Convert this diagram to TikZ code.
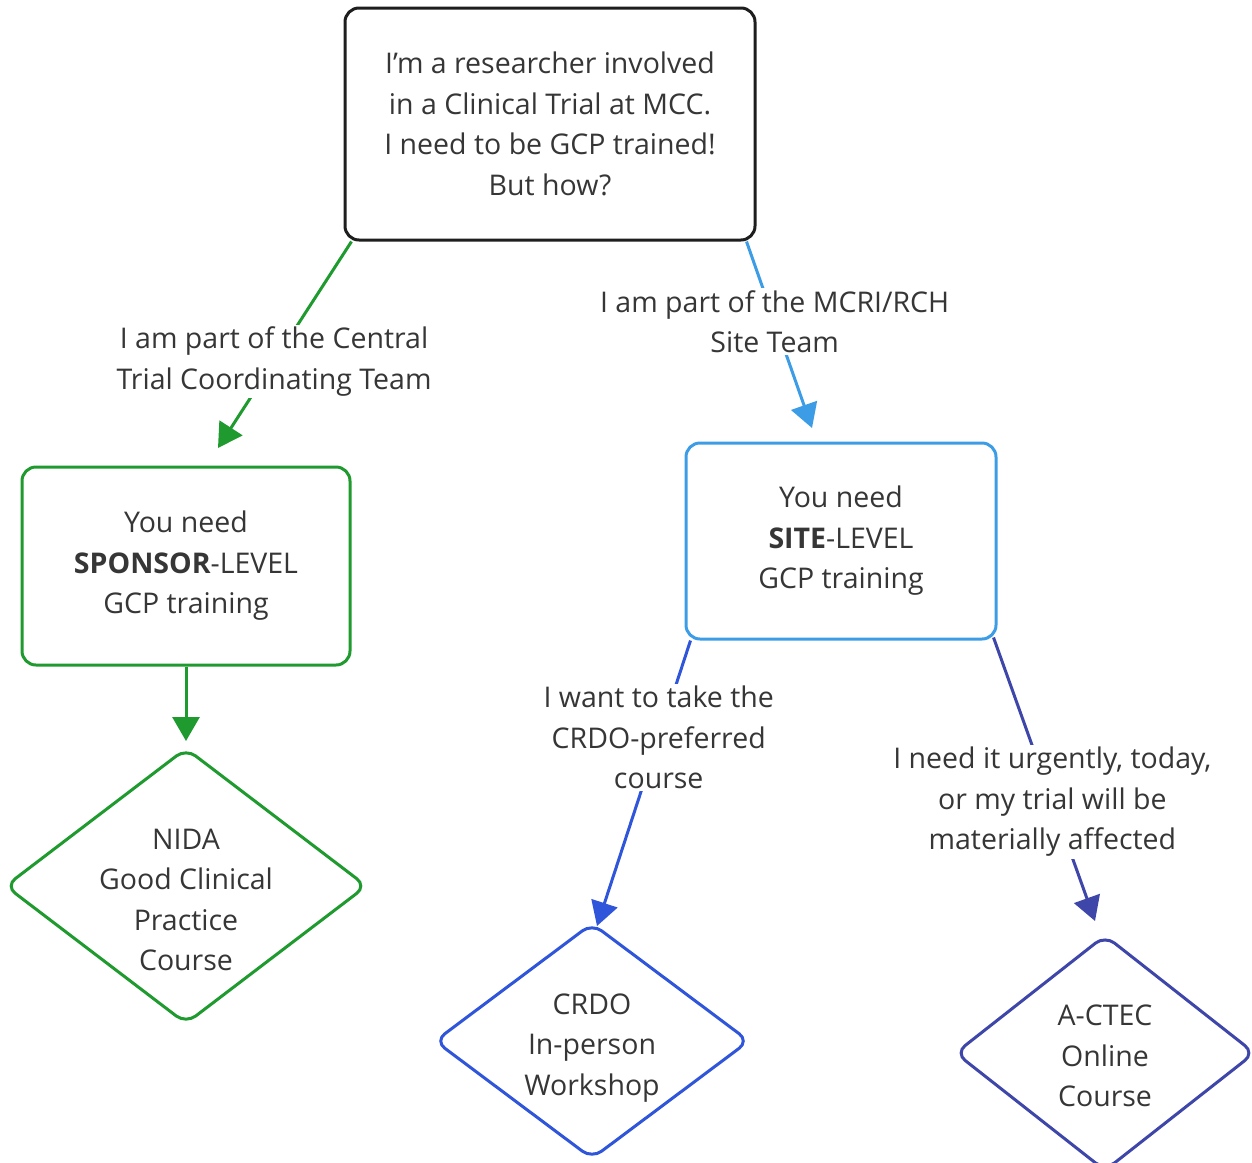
\documentclass[tikz,border=0pt]{standalone}
\usepackage{fontspec}
\setmainfont{Open Sans}
\usetikzlibrary{arrows.meta,shapes.geometric,calc}
\definecolor{cgreen}{HTML}{1F9A2F}
\definecolor{clblue}{HTML}{3C9DE6}
\definecolor{cblue}{HTML}{2F55DA}
\definecolor{cindigo}{HTML}{3E47A9}
\definecolor{ctext}{HTML}{363636}
\definecolor{cblack}{HTML}{1E1E1E}
\begin{document}
\begin{tikzpicture}[x=1pt,y=-1pt,
  every node/.style={font=\fontsize{28.5}{40.5}\selectfont, text=ctext, align=center},
  box/.style={draw, rectangle, rounded corners=14pt, line width=3pt, fill=white, inner sep=0pt},
  dia/.style={draw, diamond, rounded corners=12pt, line width=3pt, fill=white, inner sep=0pt},
  conn/.style={line width=3pt, -{Triangle[length=24pt,width=27pt]}},
  lbl/.style={fill=white, inner sep=2pt}
]
\useasboundingbox (0,0) rectangle (1252,1162);
\fill[white] (0,0) rectangle (1252,1162);

% nodes
\node[box, draw=cblack, minimum width=410pt, minimum height=232pt] (top) at (550,124)
  {I’m a researcher involved\\in a Clinical Trial at MCC.\\I need to be GCP trained!\\But how?};
\node[box, draw=cgreen, minimum width=328pt, minimum height=198pt] (sponsor) at (186,566)
  {You need\\\textbf{SPONSOR}-LEVEL\\GCP training};
\node[box, draw=clblue, minimum width=310pt, minimum height=196pt] (site) at (841,541)
  {You need\\\textbf{SITE}-LEVEL\\GCP training};
\node[dia, draw=cgreen, minimum width=362pt, minimum height=276pt] (nida) at (186,886) {};
\node at (186,900) {NIDA\\Good Clinical\\Practice\\Course};
\node[dia, draw=cblue, minimum width=315pt, minimum height=236pt] (crdo) at (592,1041) {};
\node at (592,1048) {CRDO\\In-person\\Workshop};
\node[dia, draw=cindigo, minimum width=300pt, minimum height=236pt] (actec) at (1105,1053) {};
\node at (1105,1056) {A-CTEC\\Online\\Course};

% arrow tip coordinates
\coordinate (t1) at (218,448);
\coordinate (t2) at (812,428);
\coordinate (t3) at (186,741);
\coordinate (t4) at (597,926);
\coordinate (t5) at (1095,921);

% connectors
\draw[conn, cgreen] ([xshift=8pt]top.south west) -- node[lbl, pos=0.58]{I am part of the Central\\Trial Coordinating Team} (t1);
\draw[conn, clblue] ([xshift=-10pt]top.south east) -- node[lbl, pos=0.43]{I am part of the MCRI/RCH\\Site Team} (t2);
\draw[conn, cgreen] (sponsor.south) -- (t3);
\draw[conn, cblue] ([xshift=6pt]site.south west) -- node[lbl, pos=0.34]{I want to take the\\CRDO-preferred\\course} (t4);
\draw[conn, cindigo] ([xshift=-4pt,yshift=3pt]site.south east) -- node[lbl, pos=0.58]{I need it urgently, today,\\or my trial will be\\materially affected} (t5);
\end{tikzpicture}
\end{document}
